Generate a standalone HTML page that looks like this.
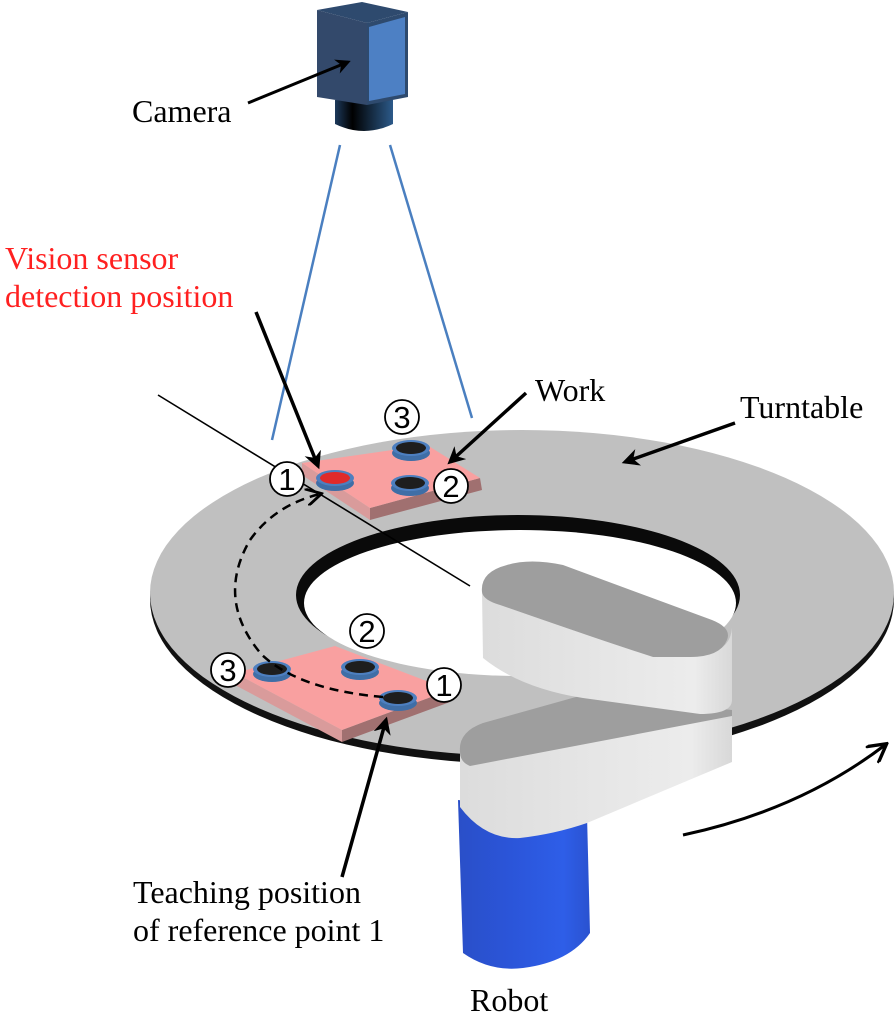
<!DOCTYPE html>
<html><head><meta charset="utf-8"><style>html,body{margin:0;padding:0;background:#fff}svg{display:block}.lbl{font-family:"Liberation Serif","Times New Roman",Times,"DejaVu Serif",serif;font-size:32px}.num{font-family:"Liberation Sans",Arial,sans-serif;font-size:31px}</style></head>
<body>
<svg width="895" height="1022" viewBox="0 0 895 1022" xmlns="http://www.w3.org/2000/svg">
<defs>
<linearGradient id="lens" x1="0" x2="1"><stop offset="0" stop-color="#1d3a5c"/><stop offset="0.3" stop-color="#000"/><stop offset="1" stop-color="#2c5a8a"/></linearGradient>
<linearGradient id="blue" x1="0" x2="1"><stop offset="0" stop-color="#2a4fc8"/><stop offset="0.4" stop-color="#2b55d9"/><stop offset="0.8" stop-color="#2e5ee8"/><stop offset="1" stop-color="#2a52d0"/></linearGradient>
<linearGradient id="side" x1="0" x2="1"><stop offset="0" stop-color="#dcdcdc"/><stop offset="0.5" stop-color="#e6e6e6"/><stop offset="0.85" stop-color="#ececec"/><stop offset="1" stop-color="#d8d8d8"/></linearGradient>
<marker id="ah" viewBox="0 0 10 10" refX="8" refY="5" markerWidth="5" markerHeight="5" orient="auto"><path d="M0,0 L10,5 L0,10 L3,5 z" fill="#000"/></marker>
<marker id="ah2" viewBox="0 0 10 10" refX="8" refY="5" markerWidth="7" markerHeight="7" orient="auto"><path d="M0,0 L9,5 L0,10" fill="none" stroke="#000" stroke-width="1.6"/></marker>
</defs>

<line x1="340" y1="145" x2="272" y2="440" stroke="#4a7fc0" stroke-width="2.5"/>
<line x1="390" y1="145" x2="472" y2="418" stroke="#4a7fc0" stroke-width="2.5"/>

<path d="M335,100 L335,124 Q364,138 393,124 L393,100 Z" fill="url(#lens)"/>
<polygon points="317,10 362,2 408,12 367,23" fill="#2e4a6e"/>
<polygon points="317,10 367,23 367,105 317,97" fill="#33496b"/>
<polygon points="367,23 408,12 408,97 367,105" fill="#2e4a6e"/>
<polygon points="369,27 405,17 405,94 369,101" fill="#4d80c4"/>

<ellipse cx="522" cy="599" rx="372" ry="165" fill="#111"/>
<ellipse cx="522" cy="593" rx="372" ry="163" fill="#c0c0c0"/>
<ellipse cx="518" cy="595" rx="222" ry="80" fill="#0a0a0a"/>
<ellipse cx="520" cy="603" rx="216" ry="73" fill="#fff"/>

<line x1="158" y1="395" x2="470" y2="586" stroke="#000" stroke-width="1.6"/>

<polygon points="302,463 370,508 370,520 302,475" fill="#d99b9b"/>
<polygon points="370,508 480,478 482,490 370,520" fill="#a07070"/>
<polygon points="302,463 427,445 480,478 370,508" fill="#f9a0a0"/>
<polygon points="235,673 342,730 342,742 235,685" fill="#d99b9b"/>
<polygon points="342,730 450,690 450,702 342,742" fill="#a07070"/>
<polygon points="235,673 335,646 450,690 342,730" fill="#f9a0a0"/>

<g>
<ellipse cx="335" cy="483" rx="19" ry="8" fill="#3f6ea6"/><ellipse cx="335" cy="478" rx="19" ry="8" fill="#4d7fbf"/><ellipse cx="335" cy="478" rx="15" ry="6" fill="#e02a2a"/>
<ellipse cx="410" cy="488" rx="19" ry="8" fill="#3f6ea6"/><ellipse cx="410" cy="483" rx="19" ry="8" fill="#4d7fbf"/><ellipse cx="410" cy="483" rx="15" ry="6" fill="#1e1e1e"/>
<ellipse cx="411" cy="453" rx="19" ry="8" fill="#3f6ea6"/><ellipse cx="411" cy="448" rx="19" ry="8" fill="#4d7fbf"/><ellipse cx="411" cy="448" rx="15" ry="6" fill="#1e1e1e"/>
<ellipse cx="272" cy="674" rx="19" ry="8" fill="#3f6ea6"/><ellipse cx="272" cy="669" rx="19" ry="8" fill="#4d7fbf"/><ellipse cx="272" cy="669" rx="15" ry="6" fill="#1e1e1e"/>
<ellipse cx="360" cy="672" rx="19" ry="8" fill="#3f6ea6"/><ellipse cx="360" cy="667" rx="19" ry="8" fill="#4d7fbf"/><ellipse cx="360" cy="667" rx="15" ry="6" fill="#1e1e1e"/>
<ellipse cx="398" cy="703" rx="19" ry="8" fill="#3f6ea6"/><ellipse cx="398" cy="698" rx="19" ry="8" fill="#4d7fbf"/><ellipse cx="398" cy="698" rx="15" ry="6" fill="#1e1e1e"/>
</g>

<path d="M383,697 Q300,690 262,655 Q215,600 250,540 Q275,505 320,494" fill="none" stroke="#000" stroke-width="2.5" stroke-dasharray="9,6" marker-end="url(#ah2)"/>

<path d="M458,800 L463,953 Q490,972 523,968 Q570,962 590,933 L587,815 Z" fill="url(#blue)"/>
<path d="M460,752 L460,807 Q485,840 520,838 Q555,834 587,823 L732,762 L732,712 Z" fill="url(#side)"/>
<path d="M460,752 Q458,732 483,723 L583,695 L732,710 L732,716 L470,766 Q460,762 460,752 Z" fill="#9e9e9e"/>
<path d="M482,592 L483,658 Q520,688 583,698 L700,714 Q732,714 732,700 L732,628 Q730,655 690,657 L653,657 Q600,640 500,605 Z" fill="url(#side)"/>
<path d="M482,592 Q480,572 507,565 Q530,558 563,565 L712,620 Q732,628 727,640 Q720,657 690,657 L653,657 Q600,640 500,605 Q483,600 482,592 Z" fill="#9e9e9e"/>

<path d="M683,835 Q800,810 885,745" fill="none" stroke="#000" stroke-width="3" marker-end="url(#ah2)"/>

<g stroke="#000" stroke-width="3.5" fill="none" marker-end="url(#ah)">
<line x1="248" y1="103" x2="348" y2="62" stroke-width="3"/>
<line x1="256" y1="312" x2="318" y2="466"/>
<line x1="526" y1="393" x2="450" y2="462"/>
<line x1="735" y1="423" x2="625" y2="462"/>
<line x1="342" y1="877" x2="386" y2="720"/>
</g>

<g class="num" text-anchor="middle">
<g><circle cx="287" cy="479" r="17" fill="#fff" stroke="#000" stroke-width="1.8"/><text x="287" y="490">1</text></g>
<g><circle cx="451" cy="486" r="17" fill="#fff" stroke="#000" stroke-width="1.8"/><text x="451" y="497">2</text></g>
<g><circle cx="402" cy="417" r="17" fill="#fff" stroke="#000" stroke-width="1.8"/><text x="402" y="428">3</text></g>
<g><circle cx="367" cy="631" r="17" fill="#fff" stroke="#000" stroke-width="1.8"/><text x="367" y="642">2</text></g>
<g><circle cx="228" cy="670" r="17" fill="#fff" stroke="#000" stroke-width="1.8"/><text x="228" y="681">3</text></g>
<g><circle cx="444" cy="685" r="17" fill="#fff" stroke="#000" stroke-width="1.8"/><text x="444" y="696">1</text></g>
</g>

<g class="lbl" fill="#000">
<text x="132" y="122">Camera</text>
<text x="5" y="269" fill="#ff2020">Vision sensor</text>
<text x="5" y="307" fill="#ff2020">detection position</text>
<text x="535" y="401">Work</text>
<text x="740" y="418">Turntable</text>
<text x="133" y="903">Teaching position</text>
<text x="133" y="941">of reference point 1</text>
<text x="470" y="1011">Robot</text>
</g>
</svg>
</body></html>
